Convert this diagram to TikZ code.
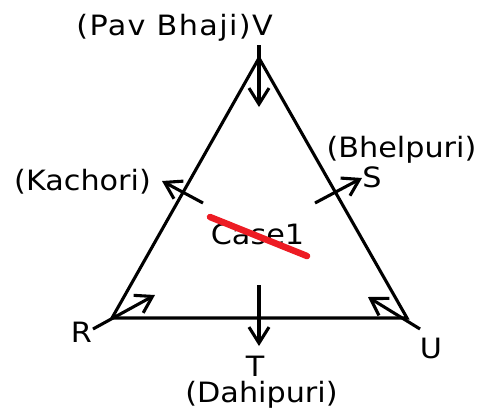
\documentclass[tikz,border=0pt]{standalone}
\usepackage{fontspec}
\setmainfont{DejaVu Sans}[FakeStretch=1.08]
\usetikzlibrary{arrows.meta}
\definecolor{strike}{RGB}{237,28,36}
\begin{document}
\begin{tikzpicture}[x=1pt,y=-1pt,
  edge/.style={line width=3.1pt},
  arr/.style={line width=3.1pt,-{Straight Barb[length=16pt,width=20pt,line width=3.1pt]}},
  lbl/.style={inner sep=0pt,anchor=base,font=\fontsize{28}{32}\selectfont}]
\useasboundingbox (0,0) rectangle (482,408);
% triangle vertices
\coordinate (V) at (259,58);
\coordinate (R) at (112,318);
\coordinate (U) at (407,318);
\draw[edge,line join=miter] (V) -- (R) -- (U) -- cycle;
% arrow endpoints
\coordinate (v0) at (259,45);  \coordinate (v1) at (259,107);
\coordinate (r0) at (93,329);  \coordinate (r1) at (155,295);
\coordinate (u0) at (420,329); \coordinate (u1) at (368,297);
\coordinate (t0) at (259,285); \coordinate (t1) at (259,346);
\coordinate (k0) at (203,203); \coordinate (k1) at (162,181);
\coordinate (s0) at (315,203); \coordinate (s1) at (362,178);
\draw[arr] (v0) -- (v1);
\draw[arr] (r0) -- (r1);
\draw[arr] (u0) -- (u1);
\draw[arr] (t0) -- (t1);
\draw[arr] (k0) -- (k1);
\draw[arr] (s0) -- (s1);
% labels
\node[lbl,anchor=base east] (lv) at (273,35) {\addfontfeatures{LetterSpace=5}(Pav Bhaji)V};
\node[lbl] (lk) at (82.5,190) {(Kachori)};
\node[lbl] (lb) at (401.5,157) {(Bhelpuri)};
\node[lbl] (ls) at (372,187) {S};
\node[lbl] (lr) at (81.5,342) {R};
\node[lbl] (lu) at (431,358) {U};
\node[lbl] (lt) at (255,376) {T};
\node[lbl] (ld) at (261.5,402) {(Dahipuri)};
\node[lbl] (lc) at (257.5,244) {Case1};
% strike-through
\coordinate (c0) at (210,217); \coordinate (c1) at (307,256);
\draw[strike,line width=6.5pt,line cap=round] (c0) -- (c1);
\end{tikzpicture}
\end{document}
